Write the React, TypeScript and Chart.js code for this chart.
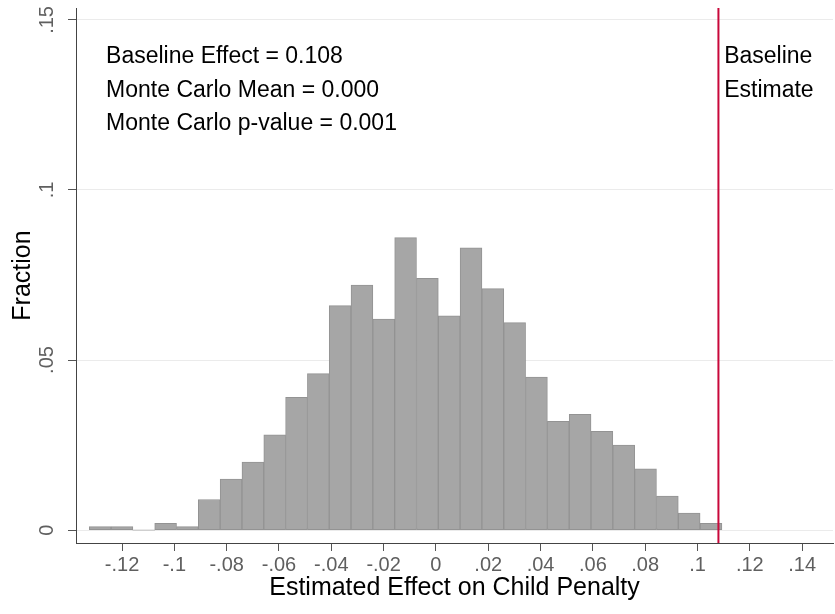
import React, { useEffect, useRef } from "react";
import { Chart, registerables } from "chart.js";

Chart.register(...registerables);

// Histogram bin centers (estimated effect) and fractions
const binCenters = [
  -0.12836, -0.12002, -0.11168, -0.10334, -0.095, -0.08666, -0.07832, -0.06998,
  -0.06164, -0.0533, -0.04496, -0.03662, -0.02828, -0.01994, -0.0116, -0.00326,
  0.00508, 0.01342, 0.02176, 0.0301, 0.03844, 0.04678, 0.05512, 0.06346,
  0.0718, 0.08014, 0.08848, 0.09682, 0.10516,
];
const fractions = [
  0.001, 0.001, 0, 0.002, 0.001, 0.009, 0.015, 0.02, 0.028, 0.039, 0.046, 0.066,
  0.072, 0.062, 0.086, 0.074, 0.063, 0.083, 0.071, 0.061, 0.045, 0.032, 0.034,
  0.029, 0.025, 0.018, 0.01, 0.005, 0.002,
];

const baselineEstimate = 0.108;

const xTickValues = [-0.12, -0.1, -0.08, -0.06, -0.04, -0.02, 0, 0.02, 0.04, 0.06, 0.08, 0.1, 0.12, 0.14];
const xTickLabels = ["-.12", "-.1", "-.08", "-.06", "-.04", "-.02", "0", ".02", ".04", ".06", ".08", ".1", ".12", ".14"];
const yTickValues = [0, 0.05, 0.1, 0.15];
const yTickLabels = ["0", ".05", ".1", ".15"];

const xMin = -0.1376;
const xMax = 0.1518;
const yMin = -0.0038;
const yMax = 0.1535;

const statLines = [
  "Baseline Effect = 0.108",
  "Monte Carlo Mean = 0.000",
  "Monte Carlo p-value = 0.001",
];
const statX = -0.1261;
const statY = [0.1374, 0.1274, 0.1177];
const baselineLabel = ["Baseline", "Estimate"];
const baselineLabelX = 0.1102;

const FONT = '"Liberation Sans", Arial, Helvetica, sans-serif';

const annotationPlugin = {
  id: "statAnnotations",
  afterDatasetsDraw(chart: any) {
    const { ctx } = chart;
    const xs = chart.scales.x;
    const ys = chart.scales.y;
    ctx.save();
    ctx.font = `23px ${FONT}`;
    ctx.fillStyle = "#000000";
    ctx.textAlign = "left";
    ctx.textBaseline = "alphabetic";
    statLines.forEach((t, i) => {
      ctx.fillText(t, xs.getPixelForValue(statX), ys.getPixelForValue(statY[i]));
    });
    baselineLabel.forEach((t, i) => {
      ctx.fillText(t, xs.getPixelForValue(baselineLabelX), ys.getPixelForValue(statY[i]));
    });
    ctx.restore();
  },
};

export default function App() {
  const canvasRef = useRef<HTMLCanvasElement | null>(null);

  useEffect(() => {
    if (!canvasRef.current) return;
    const chart = new Chart(canvasRef.current, {
      type: "bar",
      data: {
        datasets: [
          {
            type: "line",
            label: "Baseline Estimate",
            data: [
              { x: baselineEstimate, y: yMin },
              { x: baselineEstimate, y: yMax },
            ],
            borderColor: "#c8083a",
            borderWidth: 2,
            pointRadius: 0,
            order: 0,
          } as any,
          {
            type: "bar",
            label: "Fraction",
            data: binCenters.map((c, i) => ({ x: c, y: fractions[i] })),
            backgroundColor: "#a6a6a6",
            borderColor: "#939393",
            borderWidth: (c: any) => (c.raw && c.raw.y > 0 ? 1 : 0),
            borderSkipped: false,
            barPercentage: 1,
            categoryPercentage: 1,
            order: 1,
          } as any,
        ],
      },
      options: {
        responsive: false,
        animation: false,
        layout: { autoPadding: false, padding: { left: 0, right: 2, top: 8, bottom: 0 } },
        plugins: {
          legend: { display: false },
          tooltip: { enabled: false },
        },
        scales: {
          x: {
            type: "linear",
            min: xMin,
            max: xMax,
            offset: false,
            afterBuildTicks: (scale: any) => {
              scale.ticks = xTickValues.map((v) => ({ value: v }));
            },
            afterFit: (scale: any) => {
              scale.height = 71;
              scale.paddingLeft = 0;
              scale.paddingRight = 0;
            },
            grid: {
              offset: false,
              drawOnChartArea: false,
              drawTicks: true,
              tickLength: 8,
              tickColor: "#555555",
            },
            border: { display: true, color: "#444444", width: 1 },
            ticks: {
              autoSkip: false,
              maxRotation: 0,
              minRotation: 0,
              padding: 2,
              color: "#5f5f5f",
              font: { family: FONT, size: 20 },
              callback: (_v: any, i: number) => xTickLabels[i],
            },
            title: {
              display: true,
              text: "Estimated Effect on Child Penalty",
              color: "#000000",
              font: { family: FONT, size: 25 },
              padding: { top: 0, bottom: 11 },
            },
          },
          y: {
            type: "linear",
            min: yMin,
            max: yMax,
            afterBuildTicks: (scale: any) => {
              scale.ticks = yTickValues.map((v) => ({ value: v }));
            },
            afterFit: (scale: any) => {
              scale.width = 76;
              scale.paddingTop = 0;
              scale.paddingBottom = 0;
            },
            grid: {
              drawOnChartArea: true,
              color: "#ebebeb",
              lineWidth: 1,
              drawTicks: true,
              tickLength: 8,
              tickColor: "#555555",
            },
            border: { display: true, color: "#444444", width: 1 },
            ticks: {
              autoSkip: false,
              minRotation: 90,
              maxRotation: 90,
              crossAlign: "center",
              padding: 7,
              color: "#5f5f5f",
              font: { family: FONT, size: 20 },
              callback: (_v: any, i: number) => yTickLabels[i],
            },
            title: {
              display: true,
              text: "Fraction",
              color: "#000000",
              font: { family: FONT, size: 25 },
              padding: { top: 8, bottom: 0 },
            },
          },
        },
      },
      plugins: [annotationPlugin],
    } as any);
    return () => chart.destroy();
  }, []);

  return (
    <div style={{ position: "absolute", left: 0, top: 0, width: 835, height: 614, background: "#ffffff" }}>
      <canvas ref={canvasRef} width={835} height={614} />
    </div>
  );
}
